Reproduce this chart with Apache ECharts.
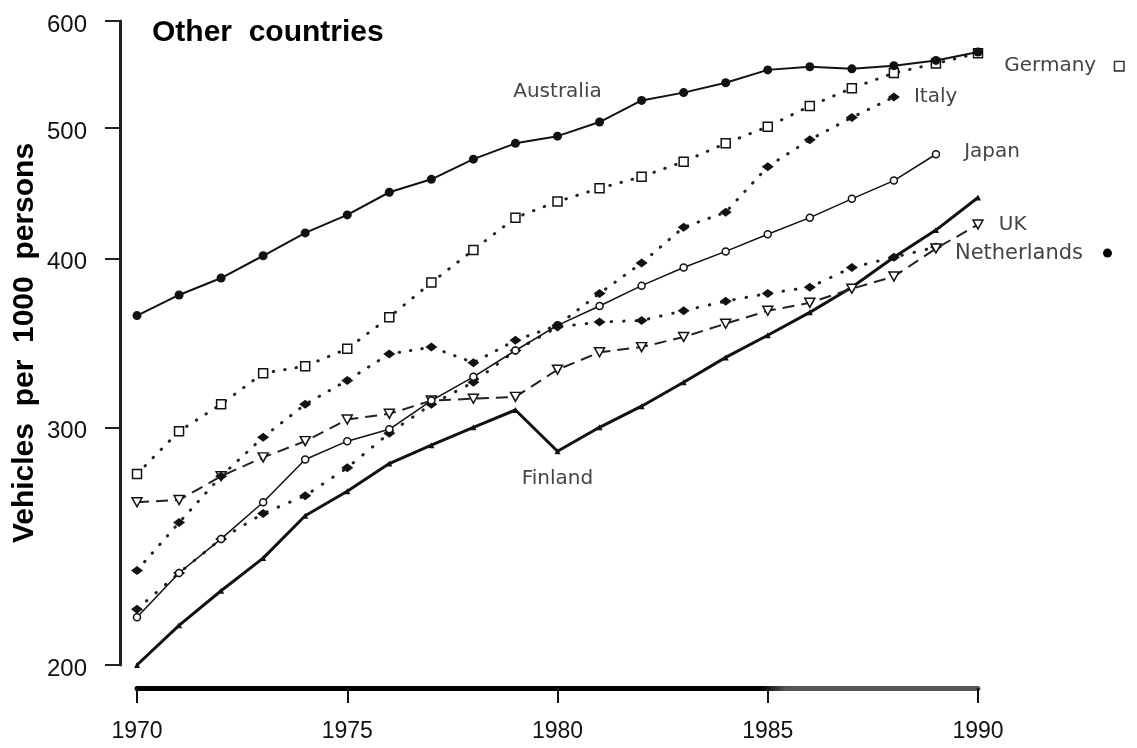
<!DOCTYPE html>
<html>
<head>
<meta charset="utf-8">
<script src="https://cdn.jsdelivr.net/npm/echarts@6/dist/echarts.min.js"></script>
<style>
  html, body { margin: 0; padding: 0; background: #fff; }
  #chart { width: 1137px; height: 748px; }
</style>
</head>
<body>
<div id="chart"></div>
<script>
// years on the x axis
const years = [1970, 1971, 1972, 1973, 1974, 1975, 1976, 1977, 1978, 1979, 1980,
  1981, 1982, 1983, 1984, 1985, 1986, 1987, 1988, 1989, 1990];
const xTicks = [1970, 1975, 1980, 1985, 1990];
const yTicks = [200, 300, 400, 500, 600];

// vehicles per 1000 persons
const australia = [363, 376, 387, 402, 418, 431, 448, 458, 474, 487, 493, 505, 524, 531, 540, 552, 555, 553, 556, 561, 569];
const germany = [277, 298, 312, 329, 333, 343, 362, 384, 406, 429, 441, 451, 460, 472, 487, 501, 519, 535, 549, 558, 568];
const italy = [235, 255, 276, 295, 312, 325, 340, 344, 335, 348, 357, 377, 397, 422, 433, 468, 490, 509, 527, null, null];
const japan = [217, 234, 248, 264, 284, 293, 299, 314, 327, 342, 357, 369, 382, 394, 405, 417, 429, 443, 457, 478, null];
const uk = [264, 265, 276, 285, 293, 304, 307, 314, 315, 316, 331, 341, 344, 350, 358, 366, 371, 380, 388, 407, 424];
const netherlands = [220, 234, 248, 259, 267, 280, 297, 312, 324, 342, 356, 359, 360, 366, 372, 377, 381, 394, 401, 408, null];
const finland = [200, 214, 227, 240, 258, 269, 282, 291, 300, 309, 288, 300, 311, 324, 338, 351, 365, 381, 401, 420, 444];

const chart = echarts.init(document.getElementById('chart'));

const labelFont = { color: '#444', fontFamily: 'DejaVu Sans', fontSize: 20 };
const ink = '#111';

// turn a value list into [year, value] points, with a label on one of them
function points(values, labelAt, label) {
  let last = -1;
  values.forEach((v, i) => { if (v != null) last = i; });
  const at = labelAt === 'last' ? last : labelAt;
  const out = [];
  values.forEach((v, i) => {
    if (v == null) return;
    const item = { value: [years[i], v] };
    if (i === at) item.label = Object.assign({ show: true }, labelFont, label);
    out.push(item);
  });
  return out;
}

const dotted = { type: [0.5, 11], width: 3, cap: 'round', color: '#222' };

chart.setOption({
  animation: false,
  backgroundColor: '#fff',
  title: {
    text: 'Other  countries',
    left: 147,
    top: 13,
    textStyle: { fontSize: 30, fontWeight: 'bold', fontFamily: 'Liberation Sans', color: '#000' },
  },
  grid: { left: 137, right: 159, top: 21, bottom: 83, outerBoundsMode: 'none' },
  xAxis: {
    type: 'value',
    min: 1970,
    max: 1990,
    interval: 5,
    offset: 23,
    splitLine: { show: false },
    axisLine: {
      lineStyle: {
        width: 5,
        color: new echarts.graphic.LinearGradient(0, 0, 1, 0, [
          { offset: 0, color: '#000' },
          { offset: 0.74, color: '#000' },
          { offset: 0.77, color: '#555' },
          { offset: 1, color: '#555' },
        ]),
      },
    },
    axisTick: { length: 15, lineStyle: { width: 2, color: ink } },
    axisLabel: {
      margin: 32,
      fontSize: 23,
      fontFamily: 'Liberation Sans',
      color: ink,
      formatter: (v) => (xTicks.indexOf(v) >= 0 ? String(v) : ''),
    },
  },
  yAxis: [
    {
      type: 'log',
      min: yTicks[0],
      max: yTicks[yTicks.length - 1],
      position: 'left',
      offset: 17,
      name: 'Vehicles  per  1000  persons',
      nameLocation: 'middle',
      nameRotate: 90,
      nameGap: 80,
      nameTextStyle: { fontSize: 30, fontWeight: 'bold', fontFamily: 'Liberation Sans', color: '#000' },
      splitLine: { show: false },
      axisLine: { lineStyle: { width: 3, color: '#222' } },
      axisTick: { show: false },
      axisLabel: { show: false },
    },
    {
      // same log scale, expressed as ln(value), only to carry the 200..600 ticks
      type: 'value',
      min: Math.log(yTicks[0]),
      max: Math.log(yTicks[yTicks.length - 1]),
      position: 'left',
      offset: 17,
      splitLine: { show: false },
      axisLine: { show: false },
      axisTick: {
        show: true,
        length: 15,
        customValues: yTicks.map((v) => Math.log(v)),
        lineStyle: { width: 2, color: '#222' },
      },
      axisLabel: {
        customValues: yTicks.map((v) => Math.log(v)),
        formatter: (v) => String(Math.round(Math.exp(v))),
        margin: 33,
        lineHeight: 30,
        verticalAlign: 'top',
        padding: [-11, 0, 0, 0],
        fontSize: 24,
        fontFamily: 'Liberation Sans',
        color: ink,
      },
    },
  ],
  series: [
    {
      name: 'Finland',
      type: 'line',
      clip: false,
      showAllSymbol: true,
      symbol: 'triangle',
      symbolSize: 6,
      itemStyle: { color: ink },
      lineStyle: { width: 3, color: ink },
      data: points(finland, 10, { position: 'bottom', distance: 15, formatter: 'Finland' }),
    },
    {
      name: 'Netherlands',
      type: 'line',
      clip: false,
      showAllSymbol: true,
      symbol: 'diamond',
      symbolSize: [12, 9],
      itemStyle: { color: ink },
      lineStyle: { type: [0.5, 12], width: 3, cap: 'round', color: '#222' },
      data: points(netherlands, 'last', {
        position: 'right', distance: 13, offset: [0, 6],
        fontSize: 21,
        formatter: 'Netherlands   {dot|}',
        rich: { dot: { width: 9, height: 9, borderRadius: 5, backgroundColor: '#000' } },
      }),
    },
    {
      name: 'UK',
      type: 'line',
      clip: false,
      showAllSymbol: true,
      symbol: 'triangle',
      symbolRotate: 180,
      symbolSize: [10, 9],
      itemStyle: { color: '#fff', borderColor: ink, borderWidth: 1.5 },
      lineStyle: { type: [12, 7], width: 2, color: '#222' },
      data: points(uk, 'last', { position: 'right', distance: 15, formatter: 'UK' }),
    },
    {
      name: 'Japan',
      type: 'line',
      clip: false,
      showAllSymbol: true,
      symbol: 'circle',
      symbolSize: 7,
      itemStyle: { color: '#fff', borderColor: ink, borderWidth: 1.5 },
      lineStyle: { width: 1.5, color: ink },
      data: points(japan, 'last', { position: 'right', distance: 24, offset: [0, -2], formatter: 'Japan' }),
    },
    {
      name: 'Italy',
      type: 'line',
      clip: false,
      showAllSymbol: true,
      symbol: 'diamond',
      symbolSize: [12, 9],
      itemStyle: { color: ink },
      lineStyle: dotted,
      data: points(italy, 'last', { position: 'right', distance: 14, formatter: 'Italy' }),
    },
    {
      name: 'Germany',
      type: 'line',
      clip: false,
      showAllSymbol: true,
      symbol: 'rect',
      symbolSize: 9,
      itemStyle: { color: '#fff', borderColor: ink, borderWidth: 1.5 },
      lineStyle: dotted,
      data: points(germany, 'last', {
        position: 'right', distance: 21, offset: [0, 13],
        formatter: 'Germany   {sq|}',
        rich: { sq: { width: 8, height: 8, borderColor: '#333', borderWidth: 1.5, backgroundColor: '#fff' } },
      }),
    },
    {
      name: 'Australia',
      type: 'line',
      clip: false,
      showAllSymbol: true,
      symbol: 'circle',
      symbolSize: 9,
      itemStyle: { color: ink },
      lineStyle: { width: 2, color: ink },
      data: points(australia, 10, { position: 'top', distance: 30, formatter: 'Australia' }),
    },
  ],
});
</script>
</body>
</html>
